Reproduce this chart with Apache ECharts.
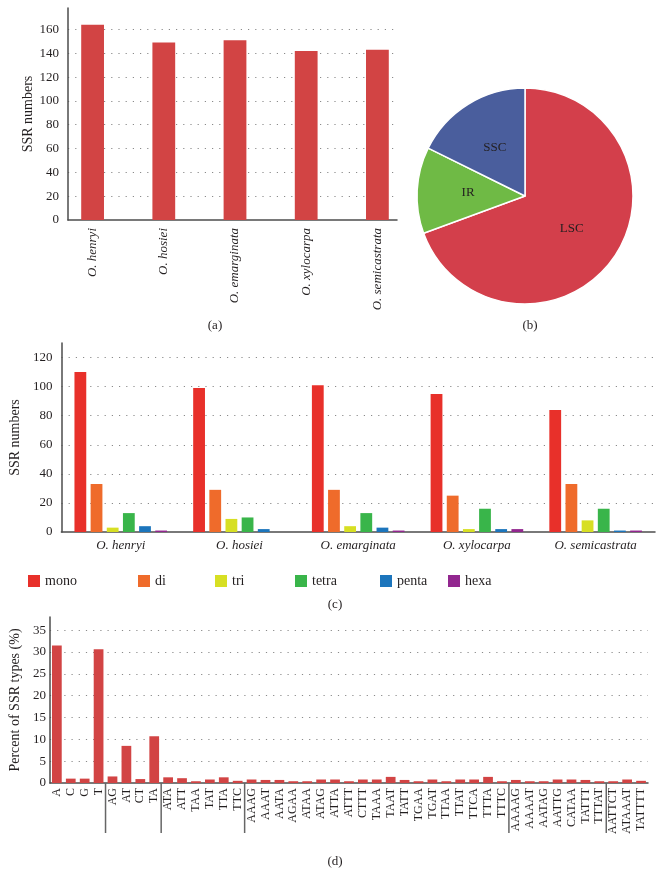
<!DOCTYPE html>
<html><head><meta charset="utf-8">
<script src="https://cdn.jsdelivr.net/npm/echarts@6/dist/echarts.min.js"></script>
<style>html,body{margin:0;padding:0;background:#fff}#c{width:660px;height:884px}</style>
</head><body><div id="c"></div>
<script>
// ---- data ----
const species = ['O. henryi','O. hosiei','O. emarginata','O. xylocarpa','O. semicastrata'];
const totalSSR = [164,149,151,142,143];
const regionNames = ['LSC','IR','SSC'];
const regionPct = [69.4,12.9,17.7];
const motifTypes = ['mono','di','tri','tetra','penta','hexa'];
const mono  = [110,99,101,95,84];
const di    = [33,29,29,25,33];
const tri   = [3,9,4,2,8];
const tetra = [13,10,13,16,16];
const penta = [4,2,3,2,1];
const hexa  = [1,0,1,2,1];
const motifs = ['A','C','G','T','AG','AT','CT','TA','ATA','ATT','TAA','TAT','TTA','TTC',
 'AAAG','AAAT','AATA','AGAA','ATAA','ATAG','ATTA','ATTT','CTTT','TAAA','TAAT','TATT','TGAA','TGAT',
 'TTAA','TTAT','TTCA','TTTA','TTTC','AAAAG','AAAAT','AATAG','AATTG','CATAA','TATTT','TTTAT',
 'AATTCT','ATAAAT','TATTTT'];
const motifPct = [31.5,1.0,1.0,30.6,1.5,8.5,0.9,10.7,1.3,1.1,0.4,0.8,1.3,0.5,
 0.8,0.7,0.7,0.4,0.4,0.8,0.8,0.4,0.8,0.8,1.4,0.7,0.4,0.8,
 0.4,0.8,0.8,1.4,0.4,0.7,0.4,0.4,0.8,0.8,0.7,0.4,
 0.4,0.8,0.5];
const groupStarts = ['AG','ATA','AAAG','AAAAG','AATTCT'];

// ---- style ----
const FONT = 'Liberation Serif';
const TXT = '#231f20';
const AX = {lineStyle:{color:'#4d4d4d', width:1.5}};
const DOT = {lineStyle:{color:'#8a8a8a', type:[1.2,6], width:1}};
const typeColors = ['#e8302a','#ef6b2b','#d7df23','#39b54a','#1c75bc','#92278f'];
const typeData = [mono, di, tri, tetra, penta, hexa];
const legendLefts = [23,133,210,290,375,443];
const SEP_LEN = 50;

const chart = echarts.init(document.getElementById('c'), null, {renderer:'canvas'});
const cap = (t, x, y) => ({text:t, left:x, top:y, textAlign:'center',
  textStyle:{fontFamily:FONT, fontSize:13, fontWeight:'normal', color:TXT}});

const option = {
  backgroundColor:'#fff',
  animation:false,
  textStyle:{fontFamily:FONT, color:TXT},
  title:[cap('(a)',210,314), cap('(b)',525,314), cap('(c)',330,593), cap('(d)',330,850)],
  legend: motifTypes.map((n,i)=>({data:[n], left:legendLefts[i], top:569, icon:'rect',
    itemWidth:12, itemHeight:12, selectedMode:false,
    textStyle:{fontFamily:FONT, fontSize:14, color:TXT}})),
  grid:[
    {left:68, top:8, width:329, height:212},       // 0 (a) axes
    {left:57, top:8, width:356, height:212},       // 1 (a) bars
    {left:52, top:343, width:603, height:189},     // 2 (c)
    {left:47, top:617, width:601, height:166}      // 3 (d)
  ],
  xAxis:[
    {gridIndex:0, type:'category', data:species, axisLine:AX, axisTick:{show:false}, axisLabel:{show:false}},
    {gridIndex:1, type:'category', data:species, axisLine:{show:false}, axisTick:{show:false},
      axisLabel:{rotate:90, margin:8, fontFamily:FONT, fontStyle:'italic', fontSize:13, color:TXT}},
    {gridIndex:2, type:'category', data:species, axisLine:AX, axisTick:{show:false},
      axisLabel:{margin:7, fontFamily:FONT, fontStyle:'italic', fontSize:13, color:TXT}},
    {gridIndex:3, type:'category', data:motifs, axisLine:AX, axisTick:{show:false},
      axisLabel:{rotate:90, interval:0, margin:5, fontFamily:FONT, fontSize:12, color:TXT}}
  ],
  yAxis:[
    {gridIndex:0, type:'value', min:0, max:178, interval:20, name:'SSR numbers', nameLocation:'middle', nameGap:30,
      nameTextStyle:{fontFamily:FONT, fontSize:14, color:TXT},
      axisLine:{show:true, ...AX}, axisTick:{show:false},
      axisLabel:{showMaxLabel:false, margin:9, fontFamily:FONT, fontSize:13, color:TXT},
      splitLine:{show:true, showMinLine:false, showMaxLine:false, ...DOT}},
    {gridIndex:1, type:'value', min:0, max:178, show:false},
    {gridIndex:2, type:'value', min:0, max:130, interval:20, name:'SSR numbers', nameLocation:'middle', nameGap:31,
      nameTextStyle:{fontFamily:FONT, fontSize:14, color:TXT},
      axisLine:{show:true, ...AX}, axisTick:{show:false},
      axisLabel:{showMaxLabel:false, margin:9, fontFamily:FONT, fontSize:13, color:TXT},
      splitLine:{show:true, showMinLine:false, showMaxLine:false, ...DOT}},
    {gridIndex:3, type:'value', min:0, max:38, interval:5, name:'Percent of SSR types (%)', nameLocation:'middle', nameGap:25,
      nameTextStyle:{fontFamily:FONT, fontSize:14, color:TXT},
      axisLine:{show:true, ...AX}, axisTick:{show:false},
      axisLabel:{showMaxLabel:false, margin:4, fontFamily:FONT, fontSize:13, color:TXT},
      splitLine:{show:true, showMinLine:false, showMaxLine:false, ...DOT}}
  ],
  series:[
    {type:'bar', xAxisIndex:1, yAxisIndex:1, data:totalSSR, barWidth:'32%', itemStyle:{color:'#d24444'}},
    {type:'pie', center:[525,196], radius:108, startAngle:90, clockwise:true,
      data: regionNames.map((n,i)=>({name:n, value:regionPct[i]})),
      color:['#d33f4b','#6fba45','#4a5e9d'],
      itemStyle:{borderColor:'#fff', borderWidth:1.5},
      label:{position:'inside', fontFamily:FONT, fontSize:13, color:TXT, formatter:'{b}'},
      labelLine:{show:false}, emphasis:{disabled:true}},
    ...motifTypes.map((n,i)=>({type:'bar', name:n, xAxisIndex:2, yAxisIndex:2, data:typeData[i],
      barGap:'37%', barCategoryGap:'22%', itemStyle:{color:typeColors[i]}})),
    {type:'bar', xAxisIndex:3, yAxisIndex:3, data:motifPct, barWidth:'70%', itemStyle:{color:'#d24444'}},
    {type:'custom', xAxisIndex:3, yAxisIndex:3, clip:false, silent:true,
      data: groupStarts.map(g=>[motifs.indexOf(g), 0]),
      renderItem:(params, api)=>{
        const p = api.coord([api.value(0), api.value(1)]);
        const bw = api.size([1,0])[0];
        const x = p[0] - bw/2;
        return {type:'line', shape:{x1:x, y1:p[1], x2:x, y2:p[1]+SEP_LEN},
          style:{stroke:'#666', lineWidth:1.5}};
      }}
  ]
};
chart.setOption(option);
</script>
</body></html>
